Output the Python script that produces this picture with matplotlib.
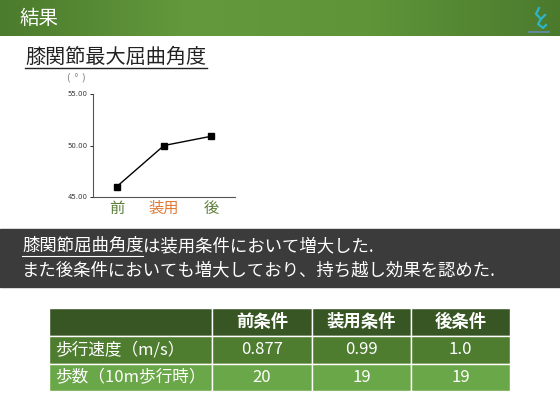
import numpy as np
import matplotlib
matplotlib.use("Agg")
import matplotlib.pyplot as plt
from matplotlib.patches import Rectangle
from matplotlib.colors import LinearSegmentedColormap

plt.rcParams['font.family'] = ['Noto Sans CJK JP', 'DejaVu Sans']

# chart data
conditions = ["前", "装用", "後"]
cond_colors = ["#5b7f3a", "#e07b39", "#5b7f3a"]
knee_angle = [46.0, 50.0, 50.9]
y_ticks = [45, 50, 55]

# table data
col_labels = ["前条件", "装用条件", "後条件"]
row_labels = ["歩行速度（m/s）", "歩数（10m歩行時）"]
speed = ["0.877", "0.99", "1.0"]
steps = ["20", "19", "19"]

W, H = 560, 420
fig = plt.figure(figsize=(W / 100, H / 100), dpi=100)

# background layer in pixel coordinates
bg = fig.add_axes([0, 0, 1, 1])
bg.set_xlim(0, W)
bg.set_ylim(H, 0)
bg.axis("off")

# header bar with gradient
cmap = LinearSegmentedColormap.from_list("hdr", ["#4b7b2c", "#64993d", "#5f9439", "#4b7a2d"])
grad = np.linspace(0, 1, 256).reshape(1, -1)
bg.imshow(grad, cmap=cmap, extent=[0, W, 36, 0], aspect="auto", zorder=0)
bg.text(20, 18, "結果", color="white", fontsize=14, va="center", ha="left")

# small logo
bg.plot([539, 536, 541, 545], [8, 14, 19, 15], color="#2cb5c9", lw=1.6)
bg.plot([541, 538, 543, 546], [19, 24, 28, 25], color="#2cb5c9", lw=1.6)
bg.plot([529, 549], [32, 32], color="#6a8fd0", lw=1.2, alpha=0.8)

# subtitle with underline
bg.text(25, 57, "膝関節最大屈曲角度", color="#222222", fontsize=14.5, va="center", ha="left")
bg.plot([25, 207], [68, 68], color="#222222", lw=1.0)

# dark message band
bg.add_patch(Rectangle((0, 229), W, 58, color="#3b3b3b", zorder=1))
t1 = bg.text(22, 246, "膝関節屈曲角度", color="white", fontsize=12.5, va="center", ha="left", zorder=2)
fig.canvas.draw()
bb = t1.get_window_extent().transformed(bg.transData.inverted())
bg.plot([22, bb.x1 - 1], [256, 256], color="white", lw=0.8, zorder=2)
bg.text(bb.x1 - 1, 246, "は装用条件において増大した.", color="white", fontsize=12.5,
        va="center", ha="left", zorder=2)
bg.text(22, 270, "また後条件においても増大しており、持ち越し効果を認めた.", color="white",
        fontsize=12.5, va="center", ha="left", zorder=2)

# table
col_x = [49, 212, 312, 411, 510]
row_y = [308, 336, 364, 391]
row_colors = ["#375623", "#4e7d30", "#6aa748"]
for r in range(3):
    for c in range(4):
        bg.add_patch(Rectangle((col_x[c], row_y[r]), col_x[c + 1] - col_x[c],
                               row_y[r + 1] - row_y[r], facecolor=row_colors[r],
                               edgecolor="white", lw=1.0, zorder=1))
for c, lab in enumerate(col_labels):
    bg.text((col_x[c + 1] + col_x[c + 2]) / 2, (row_y[0] + row_y[1]) / 2, lab,
            color="white", fontsize=12.5, fontweight="bold", ha="center", va="center", zorder=2)
for r, (lab, vals) in enumerate(zip(row_labels, [speed, steps])):
    yc = (row_y[r + 1] + row_y[r + 2]) / 2
    bg.text(55, yc, lab, color="white", fontsize=12, ha="left", va="center", zorder=2)
    for c, v in enumerate(vals):
        bg.text((col_x[c + 1] + col_x[c + 2]) / 2, yc, v, color="white", fontsize=12,
                ha="center", va="center", zorder=2)

# line chart
ax = fig.add_axes([93 / W, 1 - 197 / H, (235 - 93) / W, (197 - 94) / H])
x = np.arange(len(conditions))
ax.plot(x, knee_angle, color="black", lw=1.0, marker="s", markersize=4.5)
ax.set_xlim(-0.5, 2.5)
ax.set_ylim(45, 55)
ax.set_yticks(y_ticks)
ax.set_yticklabels([f"{v:.2f}" for v in y_ticks], fontsize=5, color="#333333",
                   family="DejaVu Sans")
ax.set_xticks(x)
ax.set_xticklabels(conditions, fontsize=11)
for lbl, col in zip(ax.get_xticklabels(), cond_colors):
    lbl.set_color(col)
ax.tick_params(axis="x", length=0, pad=2)
ax.tick_params(axis="y", length=2, width=0.6, pad=2)
for s in ["top", "right"]:
    ax.spines[s].set_visible(False)
for s in ["left", "bottom"]:
    ax.spines[s].set_color("#555555")
    ax.spines[s].set_linewidth(0.8)
ax.patch.set_alpha(0)
bg.text(76, 78, "( ° )", color="#888888", fontsize=7, ha="center", va="center",
        family="DejaVu Sans")

fig.savefig("out.png", dpi=100)
